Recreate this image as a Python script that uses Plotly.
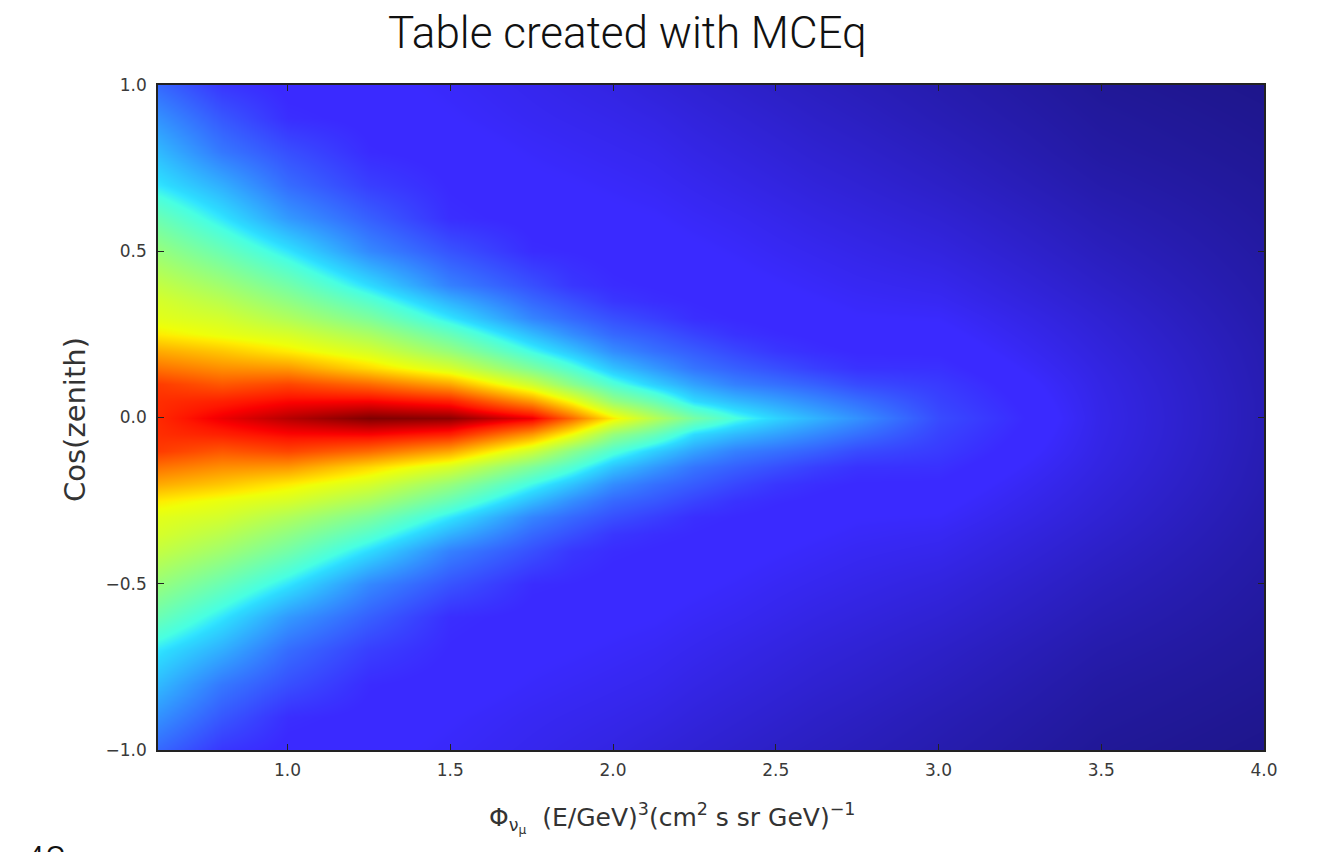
import numpy as np
import plotly.graph_objects as go

# log10(E/GeV) grid points (columns of the flux table)
log_energy = [0.602, 0.8, 1.0, 1.25, 1.5, 1.75, 1.875, 2.0, 2.125, 2.25,
              2.375, 2.5, 2.625, 2.75, 3.0, 3.5, 4.0]

# |cos(zenith)| grid points; the table is symmetric about the horizon
abs_cos_zenith = [0.0, 0.05, 0.1, 0.15, 0.2, 0.25, 0.3, 0.35, 0.4, 0.5,
                  0.6, 0.7, 0.8, 0.9, 1.0]

# Normalised E^3-weighted flux vs |cos(zenith)|, one profile per energy column
flux_e0602 = [0.87, 0.865, 0.85, 0.79, 0.73, 0.66, 0.62, 0.60, 0.57, 0.50, 0.43, 0.35, 0.30, 0.25, 0.20]
flux_e0800 = [0.92, 0.88, 0.82, 0.76, 0.70, 0.63, 0.595, 0.555, 0.515, 0.43, 0.35, 0.285, 0.22, 0.18, 0.14]
flux_e1000 = [0.96, 0.905, 0.84, 0.75, 0.66, 0.60, 0.54, 0.49, 0.445, 0.35, 0.26, 0.205, 0.17, 0.13, 0.12]
flux_e1250 = [1.00, 0.91, 0.80, 0.68, 0.60, 0.53, 0.46, 0.40, 0.34, 0.24, 0.19, 0.15, 0.127, 0.12, 0.115]
flux_e1500 = [0.99, 0.88, 0.735, 0.60, 0.50, 0.425, 0.35, 0.29, 0.23, 0.175, 0.13, 0.124, 0.118, 0.11, 0.105]
flux_e1750 = [0.92, 0.75, 0.585, 0.46, 0.37, 0.30, 0.235, 0.20, 0.17, 0.128, 0.12, 0.113, 0.107, 0.10, 0.095]
flux_e1875 = [0.80, 0.64, 0.48, 0.39, 0.31, 0.245, 0.20, 0.17, 0.14, 0.125, 0.117, 0.11, 0.103, 0.096, 0.09]
flux_e2000 = [0.66, 0.50, 0.39, 0.31, 0.245, 0.20, 0.17, 0.14, 0.128, 0.12, 0.113, 0.106, 0.099, 0.092, 0.085]
flux_e2125 = [0.55, 0.43, 0.325, 0.26, 0.21, 0.18, 0.15, 0.13, 0.124, 0.117, 0.11, 0.102, 0.095, 0.087, 0.078]
flux_e2250 = [0.45, 0.34, 0.27, 0.215, 0.185, 0.155, 0.13, 0.125, 0.12, 0.112, 0.104, 0.096, 0.088, 0.08, 0.072]
flux_e2375 = [0.38, 0.30, 0.23, 0.19, 0.16, 0.135, 0.125, 0.12, 0.115, 0.107, 0.099, 0.09, 0.082, 0.074, 0.066]
flux_e2500 = [0.33, 0.27, 0.21, 0.17, 0.14, 0.127, 0.12, 0.115, 0.11, 0.101, 0.093, 0.084, 0.076, 0.068, 0.06]
flux_e2625 = [0.29, 0.24, 0.19, 0.15, 0.13, 0.122, 0.116, 0.11, 0.105, 0.096, 0.087, 0.078, 0.07, 0.062, 0.055]
flux_e2750 = [0.25, 0.21, 0.165, 0.135, 0.124, 0.116, 0.11, 0.105, 0.10, 0.091, 0.082, 0.073, 0.065, 0.057, 0.05]
flux_e3000 = [0.165, 0.155, 0.145, 0.133, 0.123, 0.115, 0.108, 0.10, 0.094, 0.082, 0.072, 0.062, 0.054, 0.046, 0.04]
flux_e3500 = [0.09, 0.089, 0.087, 0.084, 0.08, 0.076, 0.072, 0.067, 0.062, 0.053, 0.045, 0.037, 0.03, 0.025, 0.02]
flux_e4000 = [0.045, 0.045, 0.044, 0.043, 0.042, 0.04, 0.038, 0.036, 0.034, 0.03, 0.026, 0.022, 0.018, 0.014, 0.01]

flux_columns = [flux_e0602, flux_e0800, flux_e1000, flux_e1250, flux_e1500,
                flux_e1750, flux_e1875, flux_e2000, flux_e2125, flux_e2250,
                flux_e2375, flux_e2500, flux_e2625, flux_e2750, flux_e3000,
                flux_e3500, flux_e4000]

x_tick_values = [1.0, 1.5, 2.0, 2.5, 3.0, 3.5, 4.0]
y_tick_values = [-1.0, -0.5, 0.0, 0.5, 1.0]

# Full cos(zenith) axis: mirror the upward half onto the downward half
upper = np.array(flux_columns).T            # rows: |cos z| ascending
cos_zenith = [-c for c in abs_cos_zenith[:0:-1]] + abs_cos_zenith
flux_table = np.vstack([upper[:0:-1], upper])

# jet-style colour map
jet = [
    [0.0, "rgb(27,20,128)"],
    [0.11, "rgb(58,42,255)"],
    [0.125, "rgb(58,42,255)"],
    [0.34, "rgb(45,219,255)"],
    [0.35, "rgb(50,229,255)"],
    [0.375, "rgb(72,255,226)"],
    [0.64, "rgb(239,255,8)"],
    [0.66, "rgb(255,236,0)"],
    [0.89, "rgb(255,22,0)"],
    [0.91, "rgb(250,0,0)"],
    [1.0, "rgb(128,0,0)"],
]

fig = go.Figure(
    go.Heatmap(
        x=log_energy,
        y=cos_zenith,
        z=flux_table,
        colorscale=jet,
        zmin=0.0,
        zmax=1.0,
        zsmooth="best",
        showscale=False,
    )
)

tick_font = dict(family="DejaVu Sans", size=17, color="#3a3a3a")
axis_common = dict(
    showgrid=False,
    zeroline=False,
    showline=True,
    linecolor="#222222",
    linewidth=1.5,
    mirror="ticks",
    ticks="inside",
    ticklen=6,
    tickwidth=1,
    tickcolor="#222222",
    tickfont=tick_font,
    tickformat=".1f",
)

fig.update_xaxes(range=[0.602, 4.0], tickvals=x_tick_values, ticklabelstandoff=4, **axis_common)
fig.update_yaxes(range=[-1.0, 1.0], tickvals=y_tick_values, ticklabelstandoff=6, **axis_common)


# pixel -> paper coordinate helpers for the plot area (158..1264, 85..750)
def px_x(px):
    return (px - 158) / 1106.0


def px_y(py):
    return (750 - py) / 665.0


fig.update_layout(
    width=1334,
    height=852,
    margin=dict(l=158, r=70, t=85, b=102),
    paper_bgcolor="white",
    plot_bgcolor="white",
    showlegend=False,
    annotations=[
        dict(
            text="Table created with MCEq",
            x=px_x(627), y=px_y(33), xref="paper", yref="paper",
            xanchor="center", yanchor="middle", showarrow=False,
            font=dict(family="Roboto", size=44, color="#111111", weight=300),
        ),
        dict(
            text="Φ<sub>ν<sub>μ</sub></sub>  (E/GeV)<sup>3</sup>(cm<sup>2</sup> s sr GeV)<sup>−1</sup>",
            x=px_x(672), y=px_y(818), xref="paper", yref="paper",
            xanchor="center", yanchor="middle", showarrow=False,
            font=dict(family="DejaVu Sans", size=25, color="#333333"),
        ),
        dict(
            text="Cos(zenith)",
            x=px_x(75), y=px_y(420), xref="paper", yref="paper",
            xanchor="center", yanchor="middle", showarrow=False, textangle=-90,
            font=dict(family="DejaVu Sans", size=29, color="#333333"),
        ),
        dict(
            text="48",
            x=px_x(22), y=px_y(837), xref="paper", yref="paper",
            xanchor="left", yanchor="top", showarrow=False,
            font=dict(family="Roboto", size=38, color="#111111", weight=300),
        ),
    ],
)

fig.write_html("out.html")
